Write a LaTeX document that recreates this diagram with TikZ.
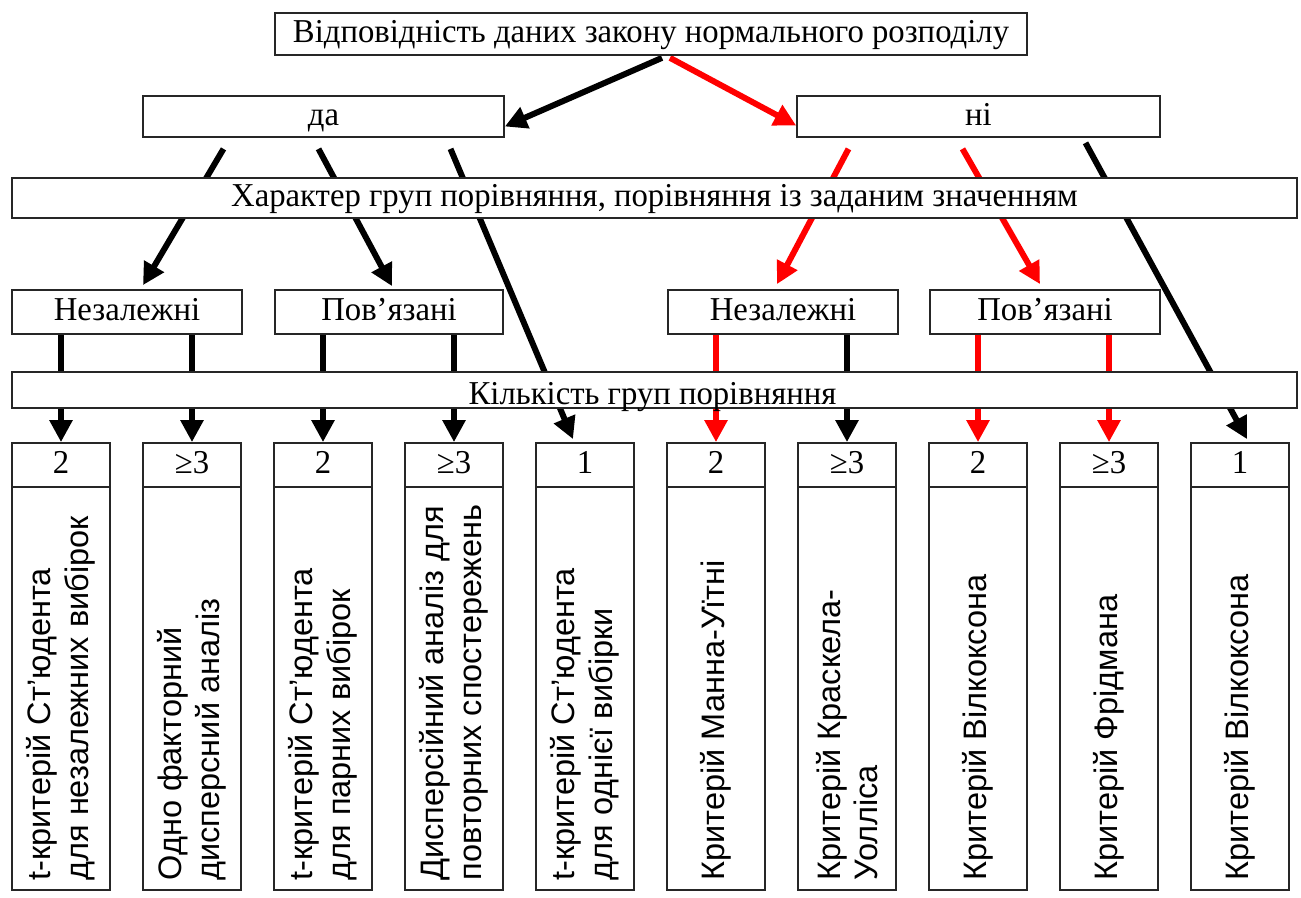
\documentclass[tikz,border=0pt]{standalone}
\usepackage{fontspec}
\setmainfont[FakeStretch=0.98]{Liberation Serif}
\setsansfont{Liberation Sans}
\usetikzlibrary{positioning,calc,arrows.meta}
\pgfdeclarelayer{background}
\pgfsetlayers{background,main}

\begin{document}
\begin{tikzpicture}[x=0.02cm,y=-0.02cm,
  box/.style={rectangle,draw=black!85,line width=1pt,fill=white,inner sep=0pt,text height=12.5pt,text depth=2.5pt,font=\fontsize{19}{22}\selectfont},
  numbox/.style={box,minimum width=1.96cm,minimum height=0.88cm},
  testbox/.style={box,minimum width=1.96cm,minimum height=8.06cm},
  testlabel/.style={rotate=90,anchor=west,align=left,inner sep=0pt,font=\sffamily\fontsize{18.5}{21.5}\selectfont},
  link/.style={line width=3.4pt,-{Triangle[length=12.5pt,width=12.5pt]}},
  redlink/.style={link,red}
]
\useasboundingbox (0,0) rectangle (1301,898);

\node [box,minimum width=15.04cm,minimum height=0.84cm] (normal) at (651,34) {Відповідність даних закону нормального розподілу};
\node [box,minimum width=7.22cm,minimum height=0.82cm] (yes) at (323.5,116.5) {да};
\node [box,minimum width=7.26cm,minimum height=0.82cm] (no) at (978.5,116.5) {ні};
\node [box,minimum width=25.7cm,minimum height=0.8cm] (kind) at (654.5,198) {Характер груп порівняння, порівняння із заданим значенням};

\node [box,minimum width=4.6cm,minimum height=0.88cm] (indep yes) at (127,312) {Незалежні};
\node [box,minimum width=4.56cm,minimum height=0.88cm] (paired yes) at (389,312) {Пов’язані};
\node [box,minimum width=4.6cm,minimum height=0.88cm] (indep no) at (783,312) {Незалежні};
\node [box,minimum width=4.6cm,minimum height=0.88cm] (paired no) at (1045,312) {Пов’язані};

\node [box,minimum width=25.7cm,minimum height=0.72cm] (count) at (654.5,390) { };
\node [inner sep=0pt,anchor=base,font=\fontsize{19}{22}\selectfont] (count label) at ($(count.south)+(-2,-4)$) {Кількість груп порівняння};

% columns of tests
\foreach \col/\num/\test in {
  1/2/{t-критерій Ст’юдента\\для незалежних вибірок},
  2/≥3/{Одно факторний\\дисперсний аналіз},
  3/2/{t-критерій Ст’юдента\\для парних вибірок},
  4/≥3/{Дисперсійний аналіз для\\повторних спостережень},
  5/1/{t-критерій Ст’юдента\\для однієї вибірки},
  6/2/{Критерій Манна-Уїтні},
  7/≥3/{Критерій Краскела-\\Уолліса},
  8/2/{Критерій Вілкоксона},
  9/≥3/{Критерій Фрідмана},
  10/1/{Критерій Вілкоксона}} {
  \pgfmathsetmacro\cx{61+131*(\col-1)}
  \node [numbox] (num\col) at (\cx,465) {\num};
  \node [testbox] (test\col) at (\cx,688.5) { };
  \node [testlabel] (test label\col) at ($(test\col.south)+(0,-10)$) {\test};
}

\begin{pgfonlayer}{background}
\draw [link] ($(normal.south)+(11,2)$) -- ($(yes.east)+(0,10)$);
\draw [redlink] ($(normal.south)+(19,2)$) -- ($(no.west)+(0,9)$);

\draw [link] ($(yes.south)+(-100,11)$) -- ($(indep yes.north)+(16,-4)$);
\draw [link] ($(yes.south)+(-5,11)$) -- ($(paired yes.north)+(3,-3)$);
\draw [link] ($(yes.south)+(127,11)$) -- ($(num5.north)+(-12,-3)$);

\draw [redlink] ($(no.south)+(-130,11)$) -- ($(indep no.north)+(-6,-5)$);
\draw [redlink] ($(no.south)+(-16,11)$) -- ($(paired no.north)+(-5,-5)$);
\draw [link] ($(no.south)+(107,5)$) -- ($(num10.north)+(7,-3)$);

\draw [link] (indep yes.south -| num1.north) -- (num1.north);
\draw [link] (indep yes.south -| num2.north) -- (num2.north);
\draw [link] (paired yes.south -| num3.north) -- (num3.north);
\draw [link] (paired yes.south -| num4.north) -- (num4.north);
\draw [redlink] (indep no.south -| num6.north) -- (num6.north);
\draw [link] (indep no.south -| num7.north) -- (num7.north);
\draw [redlink] (paired no.south -| num8.north) -- (num8.north);
\draw [redlink] (paired no.south -| num9.north) -- (num9.north);
\end{pgfonlayer}

\end{tikzpicture}
\end{document}
